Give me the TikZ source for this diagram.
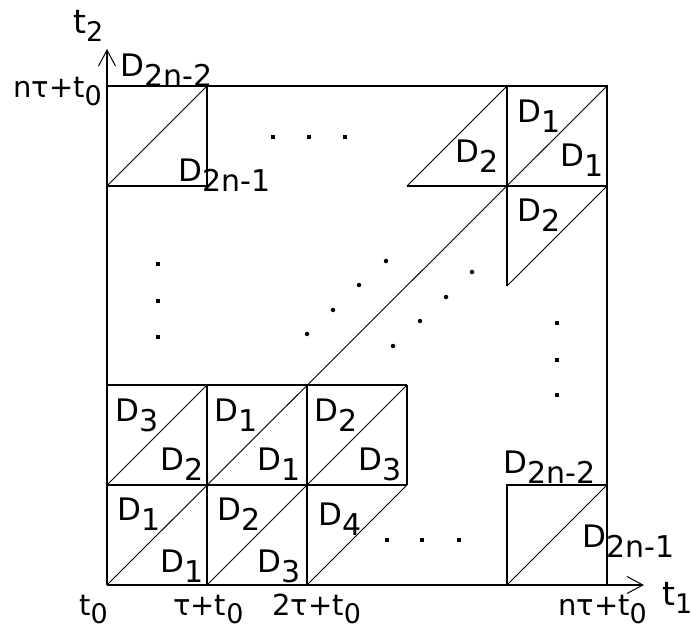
\documentclass[tikz,border=0pt]{standalone}
\usepackage{fontspec}
\setmainfont{DejaVu Sans}
\usetikzlibrary{arrows.meta}
\newcommand\sbs[1]{\raisebox{-10pt}{\fontsize{30}{30}\selectfont #1}}
\newcommand\tsb[1]{\raisebox{-8pt}{\fontsize{27}{27}\selectfont #1}}
\tikzset{
  frame/.style={line width=1.4pt},
  diag/.style={line width=0.9pt},
  axis/.style={line width=1.4pt,-{Straight Barb[length=16pt,width=17pt,line width=1pt]}},
  dl/.style={anchor=base west,inner sep=0pt,font=\fontsize{31}{31}\selectfont},
  tl/.style={anchor=base west,inner sep=0pt,font=\fontsize{29}{29}\selectfont},
  al/.style={anchor=base west,inner sep=0pt,font=\fontsize{33}{33}\selectfont},
  sq/.style={fill=black,minimum size=4pt,inner sep=0pt,draw=none},
  rd/.style={fill=black,circle,minimum size=4.5pt,inner sep=0pt,draw=none},
}
\begin{document}
\begin{tikzpicture}[x=1pt,y=-1pt]
\useasboundingbox (0,0) rectangle (691,631);
% corner coordinates
\coordinate (O) at (107,585);
\coordinate (TL) at (107,86);
\coordinate (TR) at (607,86);
\coordinate (BR) at (607,585);
\coordinate (X1) at (644,585);
\coordinate (Y1) at (107,49);
% big square
\draw[frame] (TL) -- (TR) -- (BR);
\draw[axis] (O) -- (X1);
\draw[axis] (O) -- (Y1);
% main diagonal
\draw[diag] (O) -- (TR);
% bottom-left block
\draw[frame] (107,485) -- (407,485);
\draw[frame] (107,385) -- (407,385);
\draw[frame] (207,385) -- (207,585);
\draw[frame] (307,385) -- (307,585);
\draw[frame] (407,385) -- (407,485);
\draw[diag] (107,485) -- (207,385);
\draw[diag] (207,585) -- (307,485);
\draw[diag] (307,485) -- (407,385);
\draw[diag] (307,585) -- (407,485);
% top-left cell
\draw[frame] (107,186) -- (207,186) -- (207,86);
\draw[diag] (107,186) -- (207,86);
% top-right
\draw[frame] (507,86) -- (507,286);
\draw[frame] (407,186) -- (607,186);
\draw[diag] (407,186) -- (507,86);
\draw[diag] (507,286) -- (607,186);
% bottom-right
\draw[frame] (507,585) -- (507,485) -- (607,485);
\draw[diag] (507,585) -- (607,485);
% cell labels
\node[dl] (a1) at (117,520) {D\sbs{1}};
\node[dl] (a2) at (160,572) {D\sbs{1}};
\node[dl] (a3) at (217,520) {D\sbs{2}};
\node[dl] (a4) at (257,572) {D\sbs{3}};
\node[dl] (a5) at (318,525) {D\sbs{4}};
\node[dl] (b1) at (115,421) {D\sbs{3}};
\node[dl] (b2) at (160,470) {D\sbs{2}};
\node[dl] (b3) at (214,421) {D\sbs{1}};
\node[dl] (b4) at (257,470) {D\sbs{1}};
\node[dl] (b5) at (314,421) {D\sbs{2}};
\node[dl] (b6) at (358,470) {D\sbs{3}};
\node[dl] (c1) at (517,123) {D\sbs{1}};
\node[dl] (c2) at (560,167) {D\sbs{1}};
\node[dl] (c3) at (455,163) {D\sbs{2}};
\node[dl] (c4) at (517,222) {D\sbs{2}};
\node[dl] (d1) at (120,77) {D\sbs{2n-2}};
\node[dl] (d2) at (178,182) {D\sbs{2n-1}};
\node[dl] (e1) at (503,473) {D\sbs{2n-2}};
\node[dl] (e2) at (582,547) {D\sbs{2n-1}};
% tick labels
\node[tl] (k0) at (13,98) {nτ+t\tsb{0}};
\node[tl] (k1) at (79,615) {t\tsb{0}};
\node[tl] (k2) at (173,615) {τ+t\tsb{0}};
\node[tl] (k3) at (272,615) {2τ+t\tsb{0}};
\node[tl] (k4) at (558,615) {nτ+t\tsb{0}};
\node[al] (t1) at (662,605) {t\tsb{1}};
\node[al] (t2) at (73,34) {t\tsb{2}};
% dots
\node[sq] (p1) at (273,137) {};
\node[sq] (p2) at (309,137) {};
\node[sq] (p3) at (345,137) {};
\node[sq] (q1) at (387,540) {};
\node[sq] (q2) at (422,540) {};
\node[sq] (q3) at (459,540) {};
\node[sq] (v1) at (158,264) {};
\node[sq] (v2) at (158,301) {};
\node[sq] (v3) at (158,337) {};
\node[sq] (w1) at (557,323) {};
\node[sq] (w2) at (557,360) {};
\node[sq] (w3) at (557,395) {};
\node[rd] (u1) at (307,334) {};
\node[rd] (u2) at (333,310) {};
\node[rd] (u3) at (359,285) {};
\node[rd] (u4) at (386,261) {};
\node[rd] (l1) at (393,346) {};
\node[rd] (l2) at (420,321) {};
\node[rd] (l3) at (446,297) {};
\node[rd] (l4) at (472,272) {};
\end{tikzpicture}
\end{document}
